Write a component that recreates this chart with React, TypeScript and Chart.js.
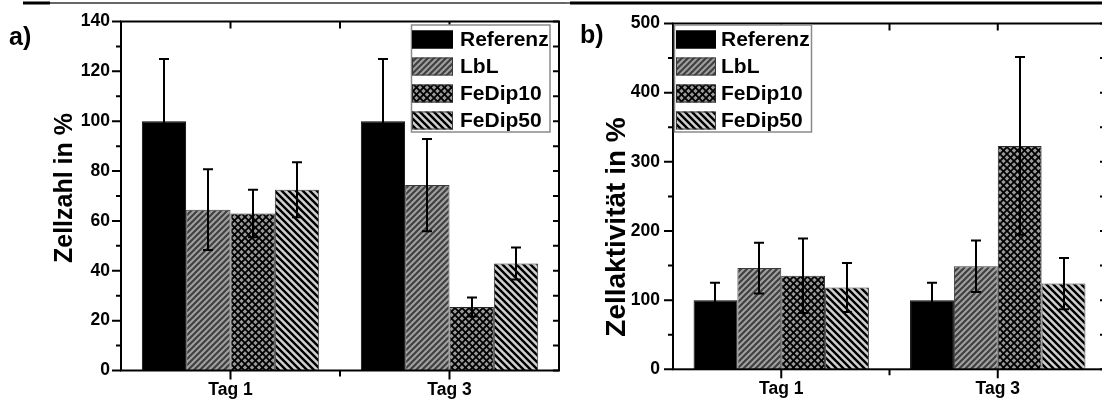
import React, { useEffect, useRef } from 'react';
import { Chart, registerables } from 'chart.js';

Chart.register(...registerables);

// ---------- data ----------
const categories = ['Tag 1', 'Tag 3'];
const seriesNames = ['Referenz', 'LbL', 'FeDip10', 'FeDip50'];

const zellzahlReferenz = [100, 100];
const zellzahlLbL = [64.5, 74.4];
const zellzahlFeDip10 = [63, 25.5];
const zellzahlFeDip50 = [72.5, 42.9];
const zellzahlErrReferenz = [25, 25];
const zellzahlErrLbL = [16.2, 18.5];
const zellzahlErrFeDip10 = [9.5, 3.8];
const zellzahlErrFeDip50 = [11, 6.4];

const aktivitaetReferenz = [100, 100];
const aktivitaetLbL = [146.4, 149];
const aktivitaetFeDip10 = [135.3, 323];
const aktivitaetFeDip50 = [118.3, 124];
const aktivitaetErrReferenz = [25, 25];
const aktivitaetErrLbL = [36.7, 37.2];
const aktivitaetErrFeDip10 = [54, 128.6];
const aktivitaetErrFeDip50 = [35.5, 37];

const zellzahlAxis = { max: 140, step: 20, minor: 10 };
const aktivitaetAxis = { max: 500, step: 100, minor: 50 };

const titleA = 'Zellzahl in %';
const titleB = 'Zellaktivität in %';
const tagA = 'a)';
const tagB = 'b)';

// ---------- styles ----------
const ARIAL = "'Liberation Sans', Arial, sans-serif";

function makePattern(kind: string): any {
  if (kind === 'solid') return '#000000';
  const c = document.createElement('canvas');
  const n = kind === 'lbl' ? 6 : kind === 'cross' ? 7 : 7;
  c.width = n;
  c.height = n;
  const ctx = c.getContext('2d')!;
  const bg = kind === 'lbl' ? '#a0a0a0' : kind === 'cross' ? '#9a9a9a' : '#d0d0d0';
  const fg = kind === 'lbl' ? '#404040' : '#000000';
  ctx.fillStyle = bg;
  ctx.fillRect(0, 0, n, n);
  ctx.strokeStyle = fg;
  ctx.lineWidth = kind === 'lbl' ? 2.2 : kind === 'cross' ? 1.8 : 2.4;
  ctx.lineCap = 'square';
  const slash = () => {
    ctx.beginPath();
    ctx.moveTo(0, n); ctx.lineTo(n, 0);
    ctx.moveTo(-2, 2); ctx.lineTo(2, -2);
    ctx.moveTo(n - 2, n + 2); ctx.lineTo(n + 2, n - 2);
    ctx.stroke();
  };
  const back = () => {
    ctx.beginPath();
    ctx.moveTo(0, 0); ctx.lineTo(n, n);
    ctx.moveTo(-2, n - 2); ctx.lineTo(2, n + 2);
    ctx.moveTo(n - 2, -2); ctx.lineTo(n + 2, 2);
    ctx.stroke();
  };
  if (kind === 'lbl') slash();
  if (kind === 'cross') { slash(); back(); }
  if (kind === 'back') back();
  const p = document.createElement('canvas').getContext('2d')!.createPattern(c, 'repeat');
  return p;
}

const patternKinds = ['solid', 'lbl', 'cross', 'back'];
const borderColors = ['#000000', '#3a3a3a', '#2a2a2a', '#3a3a3a'];

type PanelSpec = {
  canvasLeft: number;
  canvasWidth: number;
  padTop: number;
  padRight: number;
  yWidth: number;
  xHeight: number;
  axis: { max: number; step: number; minor: number };
  yLabelPad: number;
  values: number[][];
  errors: number[][];
  title: string;
  titleSize: number;
  titleX: number;
  titleY: number;
  tag: string;
  tagX: number;
  tagY: number;
  legend: { x: number; y: number; w: number; h: number; swatchX: number; swatchW: number; textX: number };
  topLine: Array<[number, number, number, string]>;
};

function Panel({ spec }: { spec: PanelSpec }) {
  const ref = useRef<HTMLCanvasElement | null>(null);
  useEffect(() => {
    const canvas = ref.current!;
    const patterns = patternKinds.map(makePattern);

    const deco = {
      id: 'deco',
      afterDatasetsDraw(chart: any) {
        const ctx = chart.ctx;
        const ys = chart.scales.y;
        ctx.save();
        ctx.strokeStyle = '#000';
        ctx.lineWidth = 2;
        spec.values.forEach((vals, i) => {
          const meta = chart.getDatasetMeta(i);
          meta.data.forEach((bar: any, j: number) => {
            const v = vals[j];
            const e = spec.errors[i][j];
            const x = Math.round(bar.x);
            const yt = ys.getPixelForValue(v + e);
            const yb = ys.getPixelForValue(v - e);
            ctx.beginPath();
            ctx.moveTo(x, yt); ctx.lineTo(x, yb);
            ctx.moveTo(x - 5, yt); ctx.lineTo(x + 5, yt);
            ctx.moveTo(x - 5, yb); ctx.lineTo(x + 5, yb);
            ctx.stroke();
          });
        });
        ctx.restore();
      },
      afterDraw(chart: any) {
        const ctx = chart.ctx;
        const { left, right, top, bottom } = chart.chartArea;
        const ys = chart.scales.y;
        const xs = chart.scales.x;
        ctx.save();
        // frame
        ctx.strokeStyle = '#000';
        ctx.lineWidth = 2;
        ctx.strokeRect(left, top, right - left, bottom - top);
        // y ticks
        for (let v = 0; v <= spec.axis.max + 1e-9; v += spec.axis.minor) {
          const py = ys.getPixelForValue(v);
          const major = Math.abs(v / spec.axis.step - Math.round(v / spec.axis.step)) < 1e-6;
          ctx.beginPath();
          ctx.moveTo(left, py); ctx.lineTo(left - (major ? 9 : 5), py);
          ctx.moveTo(right, py); ctx.lineTo(right - 6, py);
          ctx.stroke();
        }
        // x ticks
        const pts: Array<[number, boolean]> = [];
        categories.forEach((_, i) => pts.push([xs.getPixelForValue(i), true]));
        for (let i = 0; i < categories.length - 1; i++) {
          pts.push([(xs.getPixelForValue(i) + xs.getPixelForValue(i + 1)) / 2, false]);
        }
        pts.forEach(([px, major]) => {
          ctx.beginPath();
          ctx.moveTo(px, bottom); ctx.lineTo(px, bottom + (major ? 9 : 6));
          ctx.moveTo(px, top); ctx.lineTo(px, top + 7);
          ctx.stroke();
        });
        // page top line
        spec.topLine.forEach(([x0, x1, w, col]) => {
          ctx.strokeStyle = col;
          ctx.lineWidth = w;
          ctx.beginPath();
          ctx.moveTo(x0, 3); ctx.lineTo(x1, 3);
          ctx.stroke();
        });
        // legend
        const L = spec.legend;
        ctx.fillStyle = '#fff';
        ctx.fillRect(L.x, L.y, L.w, L.h);
        ctx.strokeStyle = '#8a8a8a';
        ctx.lineWidth = 1.5;
        ctx.strokeRect(L.x, L.y, L.w, L.h);
        chart.data.datasets.forEach((ds: any, i: number) => {
          const cy = L.y + 14.5 + i * 27;
          ctx.fillStyle = ds.backgroundColor;
          ctx.fillRect(L.swatchX, cy - 9, L.swatchW, 18);
          ctx.strokeStyle = borderColors[i];
          ctx.lineWidth = 1;
          ctx.strokeRect(L.swatchX + 0.5, cy - 8.5, L.swatchW - 1, 17);
          ctx.fillStyle = '#000';
          ctx.font = `bold 21px ${ARIAL}`;
          ctx.textAlign = 'left';
          ctx.textBaseline = 'middle';
          ctx.fillText(ds.label, L.textX, cy + 1);
        });
        // y title
        ctx.save();
        ctx.translate(spec.titleX, spec.titleY);
        ctx.rotate(-Math.PI / 2);
        ctx.fillStyle = '#000';
        ctx.font = `bold ${spec.titleSize}px ${ARIAL}`;
        ctx.textAlign = 'center';
        ctx.textBaseline = 'middle';
        ctx.fillText(spec.title, 0, 0);
        ctx.restore();
        // panel tag
        ctx.fillStyle = '#000';
        ctx.font = `bold 25px ${ARIAL}`;
        ctx.textAlign = 'left';
        ctx.textBaseline = 'alphabetic';
        ctx.fillText(spec.tag, spec.tagX, spec.tagY);
        ctx.restore();
      },
    };

    const chart = new Chart(canvas, {
      type: 'bar',
      data: {
        labels: categories,
        datasets: seriesNames.map((name, i) => ({
          label: name,
          data: spec.values[i],
          backgroundColor: patterns[i],
          borderColor: borderColors[i],
          borderWidth: 1,
          categoryPercentage: 0.81,
          barPercentage: 1,
        })),
      },
      options: {
        responsive: false,
        animation: false,
        devicePixelRatio: 1,
        layout: { padding: { left: 0, top: spec.padTop, right: spec.padRight, bottom: 0 } },
        plugins: { legend: { display: false }, tooltip: { enabled: false } },
        scales: {
          x: {
            grid: { display: false, drawTicks: false },
            border: { display: false },
            ticks: { color: '#000', padding: 9, font: { family: ARIAL, weight: 'bold', size: 17.5 } },
            afterFit: (s: any) => { s.height = spec.xHeight; },
          },
          y: {
            min: 0,
            max: spec.axis.max,
            grid: { display: false, drawTicks: false },
            border: { display: false },
            ticks: { stepSize: spec.axis.step, color: '#000', padding: spec.yLabelPad, font: { family: ARIAL, weight: 'bold', size: 17.5 } },
            afterFit: (s: any) => { s.width = spec.yWidth; },
          },
        },
      } as any,
      plugins: [deco],
    });
    return () => chart.destroy();
  }, [spec]);
  return (
    <canvas
      ref={ref}
      width={spec.canvasWidth}
      height={403}
      style={{ position: 'absolute', left: spec.canvasLeft, top: 0, width: spec.canvasWidth, height: 403 }}
    />
  );
}

const specA: PanelSpec = {
  canvasLeft: 0,
  canvasWidth: 566,
  padTop: 16.5,
  padRight: 7,
  yWidth: 121,
  xHeight: 32.5,
  axis: zellzahlAxis,
  yLabelPad: 11,
  values: [zellzahlReferenz, zellzahlLbL, zellzahlFeDip10, zellzahlFeDip50],
  errors: [zellzahlErrReferenz, zellzahlErrLbL, zellzahlErrFeDip10, zellzahlErrFeDip50],
  title: titleA,
  titleSize: 25,
  titleX: 65,
  titleY: 188,
  tag: tagA,
  tagX: 9,
  tagY: 45,
  legend: { x: 411.5, y: 25, w: 138.5, h: 107, swatchX: 412, swatchW: 41, textX: 460 },
  topLine: [[23, 50, 3, '#000'], [50, 566, 1.4, '#333']],
};

const specB: PanelSpec = {
  canvasLeft: 566,
  canvasWidth: 545,
  padTop: 16.7,
  padRight: 5,
  yWidth: 107,
  xHeight: 33.7,
  axis: aktivitaetAxis,
  yLabelPad: 13,
  values: [aktivitaetReferenz, aktivitaetLbL, aktivitaetFeDip10, aktivitaetFeDip50],
  errors: [aktivitaetErrReferenz, aktivitaetErrLbL, aktivitaetErrFeDip10, aktivitaetErrFeDip50],
  title: titleB,
  titleSize: 28,
  titleX: 51,
  titleY: 227,
  tag: tagB,
  tagX: 14,
  tagY: 43,
  legend: { x: 108.5, y: 25, w: 137, h: 107, swatchX: 110, swatchW: 40, textX: 155 },
  topLine: [[0, 4, 1.4, '#333'], [4, 545, 3, '#000']],
};

export default function App() {
  return (
    <div style={{ position: 'fixed', left: 0, top: 0, width: 1102, height: 403, overflow: 'hidden', background: '#fff' }}>
      <Panel spec={specA} />
      <Panel spec={specB} />
    </div>
  );
}
